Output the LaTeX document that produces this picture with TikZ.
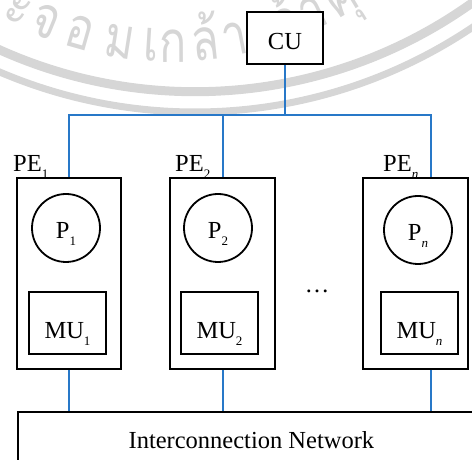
\documentclass[tikz,border=0pt]{standalone}
\usepackage{fontspec}
\setmainfont{Liberation Serif}
\newfontfamily\thaifont[Script=Thai]{Loma}
\usetikzlibrary{calc}
\definecolor{busblue}{RGB}{40,120,200}
\definecolor{sealgray}{RGB}{214,214,214}
% lowered small index, as in PE_1, P_n, MU_2
\newcommand\subidx[1]{\raisebox{-7pt}{\fontsize{13}{13}\selectfont #1}}
% narrow lettering of the seal
\newcommand\sealglyph[1]{\scalebox{0.78}[1]{#1}}

\begin{document}
\begin{tikzpicture}[x=1pt,y=1pt,
  every node/.style={font=\fontsize{24.5}{28}\selectfont},
  unitbox/.style={draw=black, line width=1.8pt, fill=white, rectangle, inner sep=0pt},
  procnode/.style={draw=black, line width=1.8pt, fill=white, circle, minimum size=68pt,
                   inner sep=0pt, text height=22pt, text depth=0pt},
  memnode/.style={unitbox, minimum width=77pt, minimum height=62pt,
                  text height=32pt, text depth=0pt},
  pebox/.style={unitbox, minimum height=191pt},
  wire/.style={draw=busblue, line width=1.6pt, line join=miter},
  capt/.style={anchor=base west, inner sep=0pt},
  sealband/.style={draw=sealgray},
  sealtext/.style={text=sealgray, font=\thaifont\fontsize{58}{62}\selectfont,
                   anchor=base, inner sep=0pt}]
\useasboundingbox (0,0) rectangle (472,460);
\clip (0,0) rectangle (472,460);

% faint seal in the background: two rings and lettering on the lower arc
\coordinate (sc) at (195,845);
\coordinate (tc) at (171,745);
\draw[sealband, line width=9pt] ([shift={(225:476.7)}]sc) arc[start angle=225, end angle=330, radius=476.7];
\draw[sealband, line width=7pt] ([shift={(225:497)}]sc) arc[start angle=225, end angle=330, radius=497];
\foreach \ang/\glyph in {242.6/ะ, 247.8/จ, 254.1/อ, 261.1/ม, 266.5/เ, 270.3/ก, 276.0/ล้,
                         281.1/า, 285.5/เ, 290.5/จ้, 295.5/า, 301.0/คุ, 307.5/ณ, 314.0/ท, 320.0/ห}
  \node[sealtext, rotate=\ang+90] at ([shift={(\ang:347)}]tc) {\sealglyph{\glyph}};

% control unit
\node[unitbox, minimum width=76pt, minimum height=52pt, text height=24pt, text depth=0pt]
  (cu) at (285,422) {CU};

% processing elements
\node[pebox, minimum width=104pt] (pe1) at (69,186.5) {};
\node[pebox, minimum width=105pt] (pe2) at (222.5,186.5) {};
\node[pebox, minimum width=105pt] (pen) at (415.5,186.5) {};

\node[capt] (pe1lab) at (13,288) {PE\subidx{1}};
\node[capt] (pe2lab) at (175,288) {PE\subidx{2}};
\node[capt] (penlab) at (383,288) {PE\subidx{\itshape n}};

\node[procnode] (p1) at (66,232) {P\subidx{1}};
\node[procnode] (p2) at (218,232) {P\subidx{2}};
\node[procnode] (pn) at (418,230) {P\subidx{\itshape n}};

\node[memnode] (m1) at (67.5,137) {MU\subidx{1}};
\node[memnode] (m2) at (219.5,137) {MU\subidx{2}};
\node[memnode] (mn) at (419.5,137) {MU\subidx{\itshape n}};

\node[anchor=base, inner sep=0pt] (dots) at (317,167) {…};

% interconnection network, running past the right and bottom edges
\node[unitbox, anchor=north west, minimum width=467pt, minimum height=56pt]
  (net) at (17,49) {Interconnection Network};

% bus from the control unit to every PE
\coordinate (jc) at (285,345);
\coordinate (j1) at (69,345);
\coordinate (j2) at (223,345);
\coordinate (jn) at (431,345);
\draw[wire] (cu.south) -- (jc);
\draw[wire] (pe1.north) -- (j1) -- (jn) -- (jn |- pen.north);
\draw[wire] (j2) -- (j2 |- pe2.north);

% links from every PE to the network
\draw[wire] (pe1.south) -- (pe1.south |- net.north);
\draw[wire] (j2 |- pe2.south) -- (j2 |- net.north);
\draw[wire] (jn |- pen.south) -- (jn |- net.north);
\end{tikzpicture}
\end{document}
